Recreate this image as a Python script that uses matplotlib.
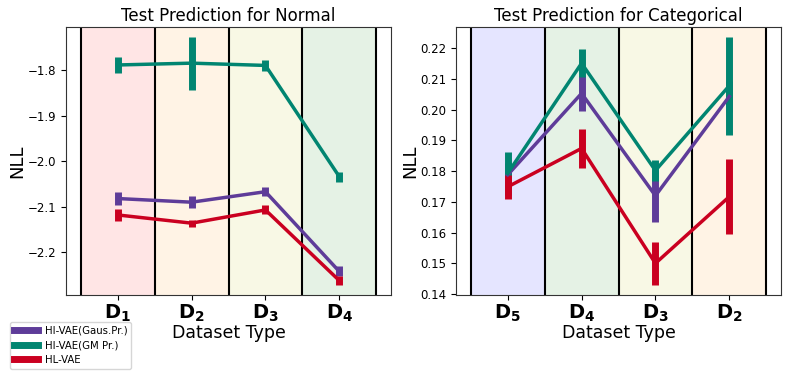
import numpy as np
import matplotlib
matplotlib.use("Agg")
import matplotlib.pyplot as plt

# left panel: Normal
norm_ticks = [r"$\mathbf{D_1}$", r"$\mathbf{D_2}$", r"$\mathbf{D_3}$", r"$\mathbf{D_4}$"]
norm_bg = ["red", "darkorange", "y", "green"]
norm_gaus = [-2.082, -2.090, -2.067, -2.242]
norm_gaus_err = [0.015, 0.013, 0.010, 0.011]
norm_gm = [-1.789, -1.785, -1.790, -2.034]
norm_gm_err = [0.018, 0.058, 0.013, 0.011]
norm_hl = [-2.118, -2.136, -2.107, -2.262]
norm_hl_err = [0.0135, 0.008, 0.010, 0.010]

# right panel: Categorical
cat_ticks = [r"$\mathbf{D_5}$", r"$\mathbf{D_4}$", r"$\mathbf{D_3}$", r"$\mathbf{D_2}$"]
cat_bg = ["blue", "green", "y", "darkorange"]
cat_gaus = [0.1788, 0.2053, 0.1720, 0.2043]
cat_gaus_err = [0.004, 0.0056, 0.0085, 0.005]
cat_gm = [0.1793, 0.2151, 0.1802, 0.2078]
cat_gm_err = [0.007, 0.0046, 0.0035, 0.016]
cat_hl = [0.1749, 0.1874, 0.1500, 0.1717]
cat_hl_err = [0.004, 0.0063, 0.0071, 0.0122]

C_GAUS, C_GM, C_HL = "#5e3c99", "#018571", "#ca0020"
LABELS = ["HI-VAE(Gaus.Pr.)", "HI-VAE(GM Pr.)", "HL-VAE"]


def panel(ax, title, ticks, bg, series):
    x = np.arange(len(ticks))
    for i, c in enumerate(bg):
        ax.axvspan(i - 0.5, i + 0.5, color=c, alpha=0.1, lw=0)
    for b in np.arange(-0.5, len(ticks), 1.0):
        ax.axvline(b, color="k", lw=1.5)
    for (y, e, col), lab in zip(series, LABELS):
        ax.errorbar(x, y, yerr=e, color=col, lw=2.5, elinewidth=5, capsize=0, label=lab)
    ax.set_xlim(-0.7, len(ticks) - 0.3)
    ax.set_xticks(x)
    ax.set_xticklabels(ticks, fontsize=14)
    ax.tick_params(axis="x", pad=2)
    ax.set_xlabel("Dataset Type", fontsize=12.5, labelpad=0)
    ax.set_ylabel("NLL", fontsize=13, labelpad=1)
    ax.set_title(title, fontsize=12, pad=4)
    ax.tick_params(axis="y", labelsize=8.5)
    for s in ax.spines.values():
        s.set_color("#333333")


fig = plt.figure(figsize=(7.89, 3.79), dpi=100)
ax1 = fig.add_axes([66 / 789, 1 - 295 / 379, 325 / 789, 268 / 379])
ax2 = fig.add_axes([456 / 789, 1 - 295 / 379, 325 / 789, 268 / 379])

panel(ax1, "Test Prediction for Normal", norm_ticks, norm_bg,
      [(norm_gaus, norm_gaus_err, C_GAUS), (norm_gm, norm_gm_err, C_GM), (norm_hl, norm_hl_err, C_HL)])
ax1.set_ylim(-2.2936, -1.7057)
ax1.set_yticks([-1.8, -1.9, -2.0, -2.1, -2.2])

panel(ax2, "Test Prediction for Categorical", cat_ticks, cat_bg,
      [(cat_gaus, cat_gaus_err, C_GAUS), (cat_gm, cat_gm_err, C_GM), (cat_hl, cat_hl_err, C_HL)])
ax2.set_ylim(0.1397, 0.2269)
ax2.set_yticks(np.arange(0.14, 0.2201, 0.01))
ax2.set_yticklabels([f"{v:.2f}" for v in np.arange(0.14, 0.2201, 0.01)])

handles = [plt.Line2D([], [], color=c, lw=5) for c in (C_GAUS, C_GM, C_HL)]
fig.legend(handles, LABELS, loc="lower left", bbox_to_anchor=(5 / 789, 5 / 379),
           fontsize=7.3, handlelength=2.4, labelspacing=0.45, borderpad=0.4,
           handletextpad=0.6, framealpha=0.8)

fig.savefig("out.png", dpi=100)
